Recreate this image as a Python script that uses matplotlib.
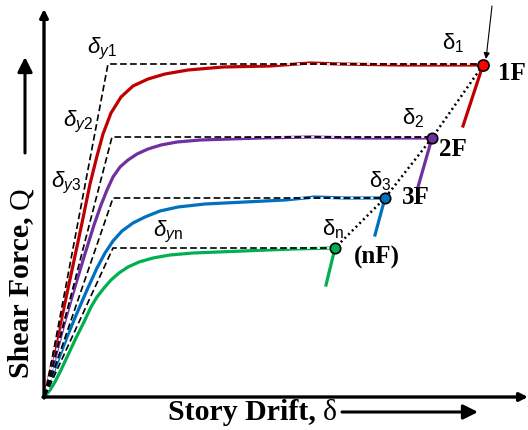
import matplotlib
matplotlib.use("Agg")
import matplotlib.pyplot as plt

plt.rcParams['mathtext.fontset'] = 'custom'
plt.rcParams['mathtext.rm'] = 'Liberation Sans'
plt.rcParams['mathtext.it'] = 'Liberation Sans:italic'
plt.rcParams['mathtext.bf'] = 'Liberation Sans:bold'

# capacity curves of each storey (drift, shear force), arbitrary units
drift_1F = [0, 13, 27, 37, 45, 52, 58, 66, 76, 88, 103, 120, 143, 178, 225, 265, 295, 355, 438]
force_1F = [0, 61, 126, 173, 212, 240, 262, 283, 299, 310, 317, 322, 326, 329, 330, 333, 332, 331, 331]
drift_2F = [0, 19, 29, 39, 49, 56, 62, 68, 75, 83, 92, 103, 116, 132, 155, 185, 215, 265, 315, 387]
force_2F = [0, 72, 106, 139, 171, 191, 206, 219, 229, 236, 242, 247, 251, 254, 256, 257, 258, 259, 258, 258]
drift_3F = [0, 12, 22, 32, 42, 52, 60, 68, 77, 88, 100, 115, 133, 160, 200, 240, 270, 300, 340]
force_3F = [0, 33, 59, 83, 106, 128, 143, 155, 165, 173, 179, 185, 189, 192, 194, 196, 199, 198, 198]
drift_nF = [0, 5, 10, 16, 23, 31, 39, 46, 52, 59, 66, 74, 83, 94, 108, 125, 148, 198, 248, 290]
force_nF = [0, 6, 14, 26, 41, 58, 74, 89, 99, 108, 116, 123, 129, 134, 138, 141, 143, 145, 147, 148]

# softening branch after the peak
drop_drift = [418, 373, 330, 281]
drop_force = [270, 209, 161, 111]

# idealised bilinear yield points
yield_drift = [63, 67, 68, 68]
peak_force = [332, 259, 198, 148]
peak_drift = [438, 387, 340, 290]

floors = ['1F', '2F', '3F', '(nF)']
colors = ['#c00000', '#7030a0', '#0070c0', '#00b050']
marker_colors = ['#ff0000', '#7030a0', '#0070c0', '#00b050']
curves = [(drift_1F, force_1F), (drift_2F, force_2F), (drift_3F, force_3F), (drift_nF, force_nF)]

fig = plt.figure(figsize=(5.28, 4.30), dpi=100)
ax = fig.add_axes([0, 0, 1, 1])
ax.set_xlim(-45, 483)
ax.set_ylim(-34, 396)
ax.axis('off')

for i in range(4):
    d, f = curves[i]
    ax.plot(d, f, color=colors[i], lw=2.3, solid_capstyle='round', solid_joinstyle='round', zorder=2)
    ax.plot([peak_drift[i], drop_drift[i]], [f[-1], drop_force[i]], color=colors[i], lw=2.3, zorder=2)
    # bilinear idealisation
    ax.plot([0, yield_drift[i], peak_drift[i]], [0, peak_force[i], peak_force[i]],
            color='black', lw=1.2, ls=(0, (4, 2)), gapcolor='white', zorder=3)

# line through the peak points
ax.plot(peak_drift, [force_1F[-1], force_2F[-1], force_3F[-1], force_nF[-1]],
        color='black', lw=1.8, ls=(0, (0.8, 1.3)), zorder=4)
for i in range(4):
    ax.plot(peak_drift[i], curves[i][1][-1], 'o', ms=8 if i == 0 else 7.5,
            mfc=marker_colors[i], mec='black', mew=1.2, zorder=5)

# axes with arrows
ax.annotate('', xy=(483, -1), xytext=(-2, -1),
            arrowprops=dict(arrowstyle='-|>', lw=2.4, color='black', mutation_scale=12, shrinkA=0, shrinkB=0))
ax.annotate('', xy=(-1, 387), xytext=(-1, -2),
            arrowprops=dict(arrowstyle='-|>', lw=2.4, color='black', mutation_scale=12, shrinkA=0, shrinkB=0))
# thin arrow pointing at the first storey
ax.annotate('', xy=(441, 337), xytext=(447, 390),
            arrowprops=dict(arrowstyle='-|>', lw=0.8, color='black', mutation_scale=9, shrinkA=0, shrinkB=0))

# yield / ultimate drift labels
labels = [r'$\delta_{y1}$', r'$\delta_{y2}$', r'$\delta_{y3}$', r'$\delta_{y\mathrm{n}}$',
          r'$\mathrm{\delta}_1$', r'$\mathrm{\delta}_2$', r'$\mathrm{\delta}_3$', r'$\mathrm{\delta}_\mathrm{n}$']
label_x = [57, 33, 21, 123, 408, 368, 335, 288]
label_y = [347, 274, 213, 164, 353, 278, 215, 167]
for s, x, y in zip(labels, label_x, label_y):
    ax.text(x, y, s, fontsize=16, ha='center', va='center', zorder=6)

floor_x = [467, 408, 371, 332]
floor_y = [322, 246, 198, 139]
for s, x, y in zip(floors, floor_x, floor_y):
    ax.text(x, y, s, fontsize=18, fontweight='bold', family='Liberation Serif',
            ha='center', va='center', zorder=6)

# axis titles
t = ax.text(123, -24, 'Story Drift, ', fontsize=21.5, fontweight='bold',
            family='Liberation Serif', ha='left', va='baseline')
ax.annotate('\u03b4', xy=(1, 0), xycoords=t, fontsize=21.5, family='Liberation Serif',
            ha='left', va='bottom')
ax.annotate('', xy=(433, -16), xytext=(297, -16),
            arrowprops=dict(arrowstyle='-|>', lw=2.2, color='black', mutation_scale=22, shrinkA=0, shrinkB=0))

t2 = ax.text(-24, 18, 'Shear Force, ', fontsize=21.5, fontweight='bold',
             family='Liberation Serif', rotation=90, ha='center', va='bottom')
ax.annotate('Q', xy=(1, 1), xycoords=t2, fontsize=21.5, family='Liberation Serif',
            rotation=90, ha='right', va='bottom')
ax.annotate('', xy=(-20, 339), xytext=(-20, 243),
            arrowprops=dict(arrowstyle='-|>', lw=2.2, color='black', mutation_scale=22, shrinkA=0, shrinkB=0))

fig.savefig('out.png', dpi=100)
